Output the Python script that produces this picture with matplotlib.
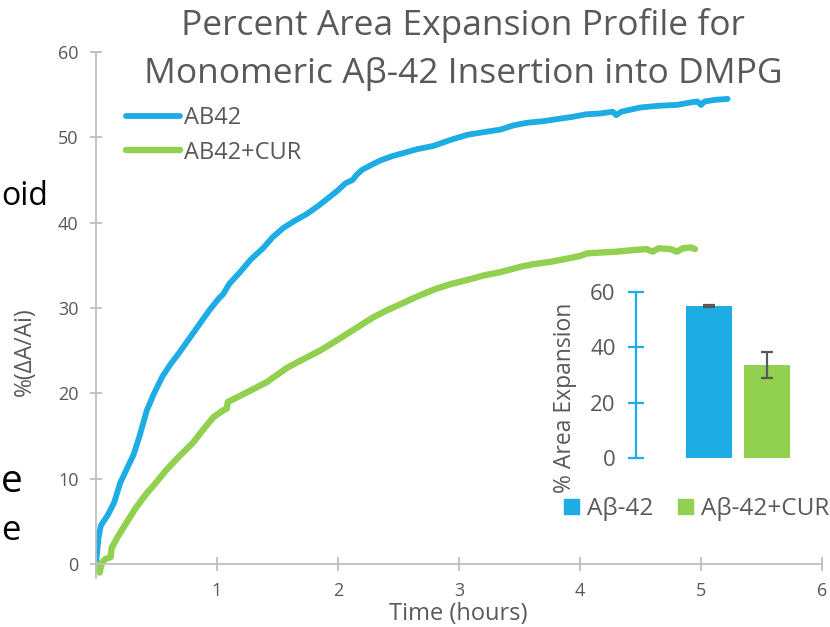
import matplotlib
matplotlib.use("Agg")
import matplotlib.pyplot as plt
from matplotlib.lines import Line2D
from matplotlib.patches import Patch

plt.rcParams['font.family'] = ['Open Sans', 'DejaVu Sans']

# ---- time course (hours, % area change) ----
ab42_t = [0.00, 0.02, 0.04, 0.10, 0.15, 0.20, 0.25, 0.31, 0.36, 0.42, 0.48, 0.55,
          0.62, 0.69, 0.78, 0.86, 0.94, 1.02, 1.05, 1.10, 1.19, 1.28, 1.38, 1.46,
          1.55, 1.64, 1.74, 1.84, 1.93, 2.00, 2.06, 2.12, 2.16, 2.20, 2.28, 2.35,
          2.45, 2.55, 2.65, 2.79, 2.93, 3.07, 3.20, 3.34, 3.45, 3.56, 3.70, 3.84,
          3.94, 4.05, 4.17, 4.27, 4.30, 4.34, 4.50, 4.65, 4.80, 4.92, 4.97, 5.00,
          5.03, 5.12, 5.22]
ab42_v = [0.0, 3.0, 4.5, 5.8, 7.2, 9.5, 11.0, 12.8, 15.0, 18.0, 20.0, 22.0,
          23.5, 24.8, 26.6, 28.2, 29.8, 31.2, 31.6, 32.8, 34.2, 35.7, 37.0, 38.3,
          39.4, 40.2, 41.0, 42.0, 43.0, 43.8, 44.6, 45.0, 45.7, 46.2, 46.8, 47.3,
          47.8, 48.2, 48.6, 49.0, 49.7, 50.3, 50.6, 50.9, 51.4, 51.7, 51.9, 52.2,
          52.4, 52.7, 52.8, 53.0, 52.6, 53.0, 53.5, 53.7, 53.8, 54.1, 54.2, 53.8,
          54.2, 54.4, 54.5]

cur_t = [0.00, 0.02, 0.03, 0.05, 0.08, 0.12, 0.13, 0.18, 0.25, 0.33, 0.42, 0.50,
         0.58, 0.68, 0.80, 0.90, 0.97, 1.05, 1.08, 1.09, 1.19, 1.30, 1.41, 1.50,
         1.58, 1.70, 1.85, 1.99, 2.10, 2.20, 2.29, 2.40, 2.51, 2.60, 2.68, 2.80,
         2.93, 3.10, 3.20, 3.34, 3.50, 3.60, 3.75, 3.90, 4.00, 4.06, 4.17, 4.30,
         4.45, 4.55, 4.60, 4.65, 4.75, 4.80, 4.85, 4.92, 4.95]
cur_v = [0.0, -0.8, -1.0, 0.2, 0.6, 0.8, 1.9, 3.2, 4.8, 6.6, 8.3, 9.6,
         11.0, 12.5, 14.2, 16.0, 17.2, 18.0, 18.2, 19.0, 19.7, 20.5, 21.3, 22.2,
         23.0, 23.9, 25.0, 26.2, 27.2, 28.1, 28.9, 29.7, 30.4, 31.0, 31.5, 32.2,
         32.8, 33.4, 33.8, 34.2, 34.8, 35.1, 35.4, 35.8, 36.1, 36.4, 36.5, 36.6,
         36.8, 36.9, 36.6, 37.0, 36.9, 36.6, 37.0, 37.1, 36.9]

series_labels = ['AB42', 'AB42+CUR']
x_ticks = [0, 1, 2, 3, 4, 5, 6]
x_tick_labels = ['', '1', '2', '3', '4', '5', '6']
y_ticks = [0, 10, 20, 30, 40, 50, 60]

# ---- final expansion summary ----
bar_labels = ['Aβ-42', 'Aβ-42+CUR']
bar_values = [54.8, 33.6]
bar_errors = [0.3, 4.7]
bar_ticks = [0, 20, 40, 60]

BLUE = '#1DACE3'
GREEN = '#92D050'
GREY = '#595959'
AXIS = '#BFBFBF'

W, H = 830, 627
fig = plt.figure(figsize=(W / 100, H / 100), dpi=100)

def fx(px):
    return px / W

def fy(py):
    return 1 - py / H

# main axes
ax = fig.add_axes([fx(96), fy(578), fx(822) - fx(96), fy(52) - fy(578)])
ax.plot(ab42_t, ab42_v, color=BLUE, lw=4.2, solid_capstyle='round', solid_joinstyle='round')
ax.plot(cur_t, cur_v, color=GREEN, lw=4.6, solid_capstyle='round', solid_joinstyle='round')
ax.set_xlim(0, 6)
ax.set_ylim(-1.64, 60)
for s in ('top', 'right'):
    ax.spines[s].set_visible(False)
ax.spines['bottom'].set_position(('data', 0))
for s in ('left', 'bottom'):
    ax.spines[s].set_color(AXIS)
    ax.spines[s].set_linewidth(1.3)
ax.set_xticks(x_ticks)
ax.set_xticklabels(x_tick_labels)
ax.set_yticks(y_ticks)
ax.tick_params(axis='x', direction='inout', length=10, width=1.3, color=AXIS,
               labelcolor=GREY, labelsize=13, pad=8)
ax.tick_params(axis='y', direction='inout', length=9, width=1.3, color=AXIS,
               labelcolor=GREY, labelsize=13, pad=8)
ax.set_facecolor('none')

handles = [Line2D([], [], color=BLUE, lw=4.2, solid_capstyle='round'),
           Line2D([], [], color=GREEN, lw=4.6, solid_capstyle='round')]
ax.legend(handles, series_labels, loc='upper left', bbox_to_anchor=(fx(126), fy(106)),
          bbox_transform=fig.transFigure, frameon=False, fontsize=17,
          labelcolor=GREY, handlelength=2.3, handletextpad=0.15, labelspacing=0.45,
          borderpad=0, borderaxespad=0)

fig.text(fx(463), fy(35), 'Percent Area Expansion Profile for',
         ha='center', va='baseline', fontsize=25.5, color=GREY)
fig.text(fx(463), fy(83), 'Monomeric Aβ-42 Insertion into DMPG',
         ha='center', va='baseline', fontsize=25.5, color=GREY)
fig.text(fx(25), fy(352), '%(ΔA/Ai)', rotation=90, ha='center', va='center',
         fontsize=16.5, color=GREY)
fig.text(fx(458), fy(620), 'Time (hours)', ha='center', va='baseline',
         fontsize=17, color=GREY)

# slide text at the left edge
fig.text(fx(1), fy(205), 'oid', ha='left', va='baseline', fontsize=23, color='black')
fig.text(fx(1), fy(492), 'e', ha='left', va='baseline', fontsize=28, color='black')
fig.text(fx(1), fy(540), 'e', ha='left', va='baseline', fontsize=25, color='black')

# inset bar chart
ax2 = fig.add_axes([fx(636), fy(458.3), fx(800) - fx(636), fy(291.7) - fy(458.3)])
ax2.set_facecolor('none')
ax2.bar([0, 1], bar_values, width=0.793, color=[BLUE, GREEN],
        yerr=bar_errors, error_kw=dict(ecolor=GREY, elinewidth=1.6, capsize=4.3, capthick=1.6))
ax2.set_xlim(-1.259, 1.57)
ax2.set_ylim(0, 60)
for s in ('top', 'right', 'bottom'):
    ax2.spines[s].set_visible(False)
ax2.spines['left'].set_color(BLUE)
ax2.spines['left'].set_linewidth(1.6)
ax2.set_xticks([])
ax2.set_yticks(bar_ticks)
ax2.tick_params(axis='y', direction='inout', length=11.5, width=1.6, color=BLUE,
                labelcolor=GREY, labelsize=16, pad=9)
fig.text(fx(565), fy(398), '% Area Expansion', rotation=90, ha='center', va='center',
         fontsize=16.5, color=GREY)
ax2.legend([Patch(color=BLUE), Patch(color=GREEN)], bar_labels, ncol=2,
           loc='upper left', bbox_to_anchor=(fx(564), fy(497)), bbox_transform=fig.transFigure,
           frameon=False, fontsize=17.5, labelcolor=GREY, handlelength=0.62, handleheight=0.6,
           handletextpad=0.33, columnspacing=1.0, borderpad=0, borderaxespad=0)

fig.savefig('out.png', dpi=100)
